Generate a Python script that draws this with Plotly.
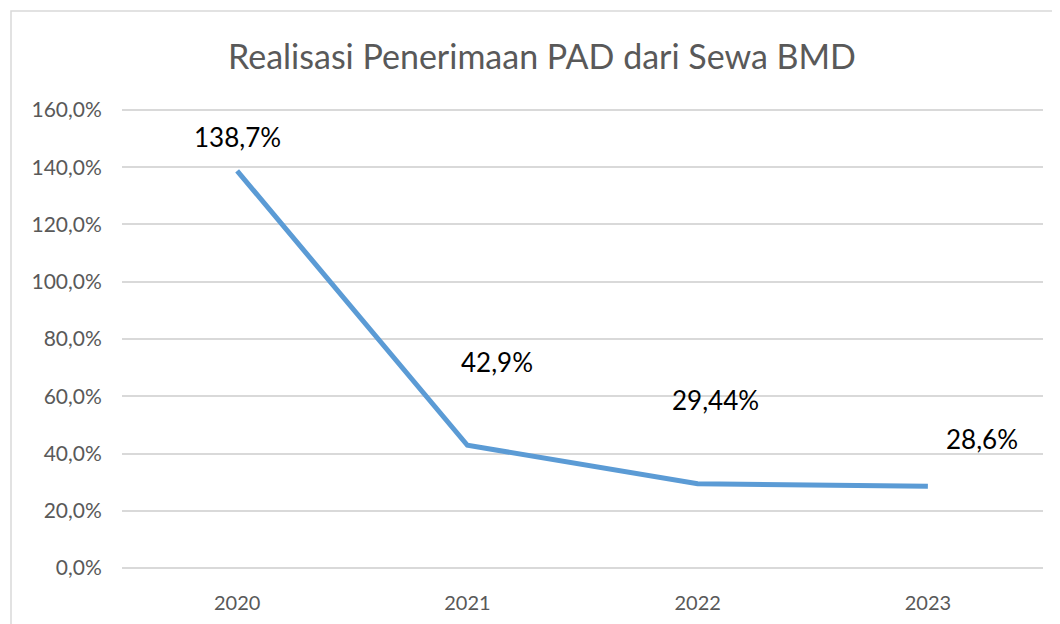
import plotly.graph_objects as go

years = ["2020", "2021", "2022", "2023"]
realisasi = [138.7, 42.9, 29.44, 28.6]
labels = ["138,7%", "42,9%", "29,44%", "28,6%"]
y_ticks = [0, 20, 40, 60, 80, 100, 120, 140, 160]
y_tick_text = ["0,0%", "20,0%", "40,0%", "60,0%", "80,0%", "100,0%", "120,0%", "140,0%", "160,0%"]

# label offsets (pixels) as placed in the reference
label_dx = [0, 30, 18, 54]
label_dy = [34, 83, 84, 47]

FONT = "Lato"
fig = go.Figure()
fig.add_trace(go.Scatter(
    x=years, y=realisasi, mode="lines",
    line=dict(color="#5B9BD5", width=5),
    hoverinfo="skip", showlegend=False,
))

for i, (y, t, dx, dy) in enumerate(zip(realisasi, labels, label_dx, label_dy)):
    # category index i on the category x axis
    fig.add_annotation(x=i, y=y, xref="x", yref="y", text=t, showarrow=False,
                       xshift=dx, yshift=dy,
                       font=dict(family=FONT, size=26, color="#000000"))

OFF = 8  # page body margin
W, H = 1060 - OFF, 624 - OFF
L, R, T, B = 122 - OFF, 17, 99, 53
pw, ph = W - L - R, H - T - B

def px2x(px):
    return (px - OFF - L) / pw

def py2y(py):
    return (H - B - (py - OFF)) / ph

# outer chart border (top and left visible)
fig.add_shape(type="rect", xref="paper", yref="paper",
              x0=px2x(11), x1=px2x(1075), y0=py2y(640), y1=py2y(11),
              line=dict(color="#D9D9D9", width=1.5), fillcolor="rgba(0,0,0,0)", layer="below")

fig.update_layout(
    width=W, height=H,
    margin=dict(l=L, r=R, t=T, b=B, autoexpand=False),
    paper_bgcolor="white", plot_bgcolor="white",
    title=dict(text="Realisasi Penerimaan PAD dari Sewa BMD",
               x=(542 - OFF) / W, xref="container", xanchor="center",
               y=1 - (57 - OFF) / H, yref="container", yanchor="middle",
               font=dict(family=FONT, size=34, color="#595959")),
    xaxis=dict(type="category", categoryorder="array", categoryarray=years,
               range=[-0.5, len(years) - 0.5], automargin=False,
               showgrid=False, zeroline=False, showline=False,
               ticks="outside", ticklen=14, tickcolor="rgba(0,0,0,0)",
               tickfont=dict(family=FONT, size=20, color="#595959")),
    yaxis=dict(range=[-1, 161], tickvals=y_ticks, ticktext=y_tick_text, automargin=False,
               showgrid=True, gridcolor="#D9D9D9", gridwidth=1.5,
               zeroline=False, showline=False,
               ticks="outside", ticklen=15, tickcolor="rgba(0,0,0,0)",
               tickfont=dict(family=FONT, size=21, color="#595959")),
)

fig.write_html("out.html")
